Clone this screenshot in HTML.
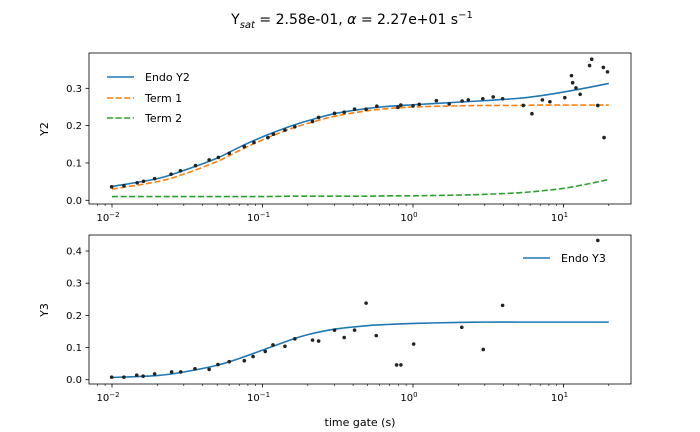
<!DOCTYPE html>
<html><head><meta charset="utf-8"><style>
html,body{margin:0;padding:0;background:#fff;}
svg{display:block;font-family:"DejaVu Sans","Liberation Sans",sans-serif;}
</style></head><body>
<svg id="chart" width="700" height="432" viewBox="0 0 700 432" xmlns="http://www.w3.org/2000/svg">
<text x="352" y="24" text-anchor="middle" font-size="14" fill="#000">Y<tspan font-size="10" font-style="italic" dy="4">sat</tspan><tspan dy="-4"> = 2.58e-01, </tspan><tspan font-style="italic">α</tspan> = 2.27e+01 s<tspan font-size="10" dy="-6">−1</tspan></text>
<g id="top"></g>
<g id="bot"></g>
<text x="0" y="0" transform="translate(48,129) rotate(-90)" text-anchor="middle" font-size="11">Y2</text>
<text x="0" y="0" transform="translate(48,310) rotate(-90)" text-anchor="middle" font-size="11">Y3</text>
<text x="360" y="426" text-anchor="middle" font-size="11">time gate (s)</text>
</svg>
<script>
const y2T=[0.00995,0.012,0.0147,0.0162,0.0192,0.0247,0.0285,0.0359,0.0442,0.0509,0.0601,0.0757,0.0877,0.1086,0.118,0.141,0.164,0.215,0.236,0.301,0.349,0.409,0.488,0.575,0.794,0.83,1.0,1.1,1.43,1.74,2.12,2.33,2.91,3.41,3.94,5.41,6.17,7.24,8.12,10.2,11.3,11.5,12.1,12.9,14.9,15.4,18.4,16.9,18.6,19.6];
const y2V=[0.036,0.039,0.047,0.051,0.058,0.070,0.079,0.093,0.108,0.115,0.126,0.144,0.155,0.168,0.177,0.188,0.197,0.211,0.222,0.233,0.236,0.244,0.244,0.252,0.249,0.255,0.253,0.257,0.267,0.258,0.266,0.269,0.272,0.277,0.272,0.254,0.232,0.269,0.264,0.275,0.334,0.315,0.301,0.284,0.361,0.378,0.356,0.254,0.168,0.344];
const fitT=[0.01,0.02,0.03,0.05,0.07,0.1,0.15,0.2,0.3,0.5,0.7,1,2,3,5,7,10,15,20];
const endoY2=[0.037,0.058,0.080,0.113,0.142,0.170,0.197,0.213,0.232,0.246,0.252,0.256,0.263,0.267,0.273,0.280,0.290,0.303,0.313];
const term1=[0.030,0.050,0.070,0.104,0.133,0.162,0.190,0.206,0.225,0.240,0.246,0.250,0.253,0.254,0.254,0.255,0.255,0.255,0.255];
const term2=[0.010,0.010,0.010,0.010,0.010,0.010,0.011,0.011,0.011,0.011,0.012,0.012,0.014,0.016,0.020,0.025,0.032,0.045,0.056];
const y3T=[0.00995,0.012,0.0146,0.0161,0.0192,0.0249,0.0286,0.0356,0.0442,0.0506,0.0601,0.0757,0.0866,0.1043,0.1174,0.141,0.164,0.215,0.236,0.301,0.349,0.409,0.488,0.57,0.778,0.831,1.01,2.11,2.93,3.94,16.9];
const y3V=[0.008,0.008,0.014,0.011,0.018,0.024,0.024,0.034,0.032,0.047,0.056,0.059,0.072,0.088,0.108,0.104,0.127,0.123,0.120,0.154,0.131,0.154,0.238,0.137,0.046,0.046,0.111,0.163,0.094,0.231,0.433];
const endoY3=[0.007,0.013,0.024,0.045,0.066,0.092,0.122,0.140,0.157,0.168,0.172,0.175,0.178,0.179,0.179,0.179,0.179,0.179,0.179];
const yTicksTop=[0.0,0.1,0.2,0.3];
const yTicksBot=[0.0,0.1,0.2,0.3,0.4];
const xDecades=[-2,-1,0,1];

const NS="http://www.w3.org/2000/svg";
function mk(tag,attrs,parent){const e=document.createElementNS(NS,tag);for(const k in attrs)e.setAttribute(k,attrs[k]);parent.appendChild(e);return e;}
const xs=t=>112+(Math.log10(t)+2)*150.5;
const yTop=v=>200.3-v*373.3;
const yBot=v=>379.7-v*321.7;
function pathD(T,V,ys){let d='';T.forEach((t,i)=>{d+=(i?'L':'M')+xs(t).toFixed(2)+','+ys(V[i]).toFixed(2);});return d;}
function smoothD(T,V,ys){
  // denser interpolation in log space (cubic Catmull-Rom) between read samples
  const P=T.map((t,i)=>[xs(t),ys(V[i])]);let d='M'+P[0][0]+','+P[0][1];
  for(let i=0;i<P.length-1;i++){const p0=P[Math.max(0,i-1)],p1=P[i],p2=P[i+1],p3=P[Math.min(P.length-1,i+2)];
    const c1=[p1[0]+(p2[0]-p0[0])/6,p1[1]+(p2[1]-p0[1])/6],c2=[p2[0]-(p3[0]-p1[0])/6,p2[1]-(p3[1]-p1[1])/6];
    d+='C'+c1[0].toFixed(2)+','+c1[1].toFixed(2)+' '+c2[0].toFixed(2)+','+c2[1].toFixed(2)+' '+p2[0].toFixed(2)+','+p2[1].toFixed(2);}
  return d;}
function axes(g,top,bot,ys,ticks,name){
  const frame=mk('rect',{x:89,y:top,width:542,height:bot-top,fill:'none',stroke:'#000','stroke-width':0.8},g);
  
  
  ticks.forEach(v=>{const y=ys(v);
    const tk=mk('line',{x1:85.5,x2:89,y1:y,y2:y,stroke:'#000','stroke-width':0.8},g);
    
    
    const tl=mk('text',{x:82,y:y+3.5,'text-anchor':'end','font-size':10},g);tl.textContent=v.toFixed(1);
    
    });
  for(let d=-3;d<=1;d++){for(let m=1;m<10;m++){const lg=d+Math.log10(m);const x=112+(lg+2)*150.5;if(x<89||x>631)continue;
    const tk=mk('line',{x1:x,x2:x,y1:bot,y2:bot+(m==1?3.5:2),stroke:'#000','stroke-width':m==1?0.8:0.6},g);
    
    }}
  xDecades.forEach(d=>{const x=112+(d+2)*150.5;
    const tl=mk('text',{x:x-4,y:bot+17,'text-anchor':'middle','font-size':10},g);tl.textContent='10';
    const s=mk('tspan',{'font-size':7,dy:-4},tl);s.textContent=(d<0?'−':'')+Math.abs(d);
    
    });
}
function dots(g,T,V,ys,name){T.forEach((t,i)=>{const c=mk('circle',{cx:xs(t),cy:ys(V[i]),r:1.8,fill:'#222'},g);
  
  });}
const gt=document.getElementById('top'),gb=document.getElementById('bot');
axes(gt,53,204,yTop,yTicksTop,'top');
let p=mk('path',{d:smoothD(fitT,endoY2,yTop),fill:'none',stroke:'#1f77b4','stroke-width':1.6},gt);


p=mk('path',{d:smoothD(fitT,term1,yTop),fill:'none',stroke:'#ff7f0e','stroke-width':1.6,'stroke-dasharray':'6,2.6'},gt);


p=mk('path',{d:smoothD(fitT,term2,yTop),fill:'none',stroke:'#2ca02c','stroke-width':1.6,'stroke-dasharray':'6,2.6'},gt);


dots(gt,y2T,y2V,yTop,'y2-point');
const leg=[['Endo Y2','#1f77b4',null,77],['Term 1','#ff7f0e','6,2.6',98],['Term 2','#2ca02c','6,2.6',118]];
leg.forEach(([lab,col,da,y])=>{const a={x1:107,x2:134,y1:y,y2:y,stroke:col,'stroke-width':1.6};if(da)a['stroke-dasharray']=da;
  const l=mk('line',a,gt);
  const t=mk('text',{x:145,y:y+4,'font-size':11},gt);t.textContent=lab;
  
  });
axes(gb,235,384,yBot,yTicksBot,'bottom');
p=mk('path',{d:smoothD(fitT,endoY3,yBot),fill:'none',stroke:'#1f77b4','stroke-width':1.6},gb);


dots(gb,y3T,y3V,yBot,'y3-point');
let l=mk('line',{x1:523,x2:550,y1:258,y2:258,stroke:'#1f77b4','stroke-width':1.6},gb);


let t=mk('text',{x:561,y:262,'font-size':11},gb);t.textContent='Endo Y3';


</script>
</body></html>
